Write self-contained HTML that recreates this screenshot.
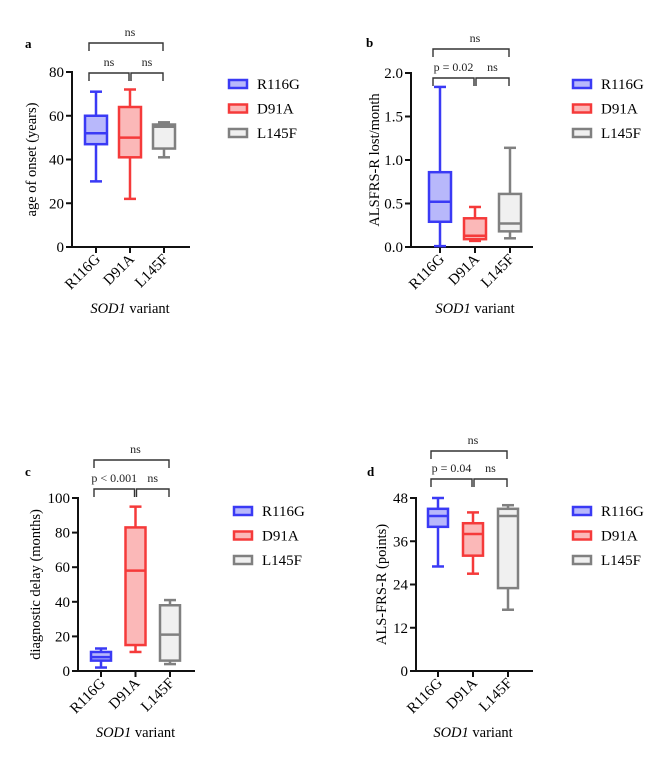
<!DOCTYPE html>
<html><head><meta charset="utf-8"><style>
html,body{margin:0;padding:0;background:#fff;}
svg{display:block;font-family:"Liberation Serif",serif;}
</style></head><body>
<svg id="fig" width="667" height="768" viewBox="0 0 667 768" xmlns="http://www.w3.org/2000/svg"></svg>
<script>
const categories = ["R116G","D91A","L145F"];
// [min, q1, median, q3, max] per category
const statsA = [[30,47,52,60,71],[22,41,50,64,72],[41,45,55,56,57]];
const statsB = [[0.01,0.29,0.52,0.86,1.84],[0.07,0.09,0.13,0.33,0.46],[0.10,0.18,0.27,0.61,1.14]];
const statsC = [[2,6,8,11,13],[11,15,58,83,95],[4,6,21,38,41]];
const statsD = [[29,40,43,45,48],[27,32,38,41,44],[17,23,43,45,46]];
const ticksA = [0,20,40,60,80];
const ticksB = [0,0.5,1.0,1.5,2.0];
const ticksC = [0,20,40,60,80,100];
const ticksD = [0,12,24,36,48];
const sigA = ["ns","ns","ns"];
const sigB = ["p = 0.02","ns","ns"];
const sigC = ["p < 0.001","ns","ns"];
const sigD = ["p = 0.04","ns","ns"];

const colors = [{s:"#3a3af5",f:"#b8b8fb"},{s:"#f53a3a",f:"#fbb8b8"},{s:"#808080",f:"#f0f0f0"}];
const NS="http://www.w3.org/2000/svg";
const svg=document.getElementById('fig');
function el(tag,attrs,parent,text){const e=document.createElementNS(NS,tag);for(const k in attrs)e.setAttribute(k,attrs[k]);if(text!==undefined)e.textContent=text;(parent||svg).appendChild(e);return e;}

function panel(o){
  const g=el('g',{});
  
  
  const y=v=>o.bottom-(v-o.min)/(o.max-o.min)*(o.bottom-o.top);
  const x=i=>o.cx0+i*o.dx;
  const lt=el('text',{x:o.lx,y:o.ly,'font-size':13,'font-weight':'bold'},g,o.letter);
  
  
  const ya=el('line',{x1:o.ax,y1:o.top-1,x2:o.ax,y2:o.bottom+1,stroke:'#111','stroke-width':2},g);
  
  
  const xa=el('line',{x1:o.ax-1,y1:o.bottom,x2:o.axEnd,y2:o.bottom,stroke:'#111','stroke-width':2},g);
  
  
  o.ticks.forEach(t=>{
    el('line',{x1:o.ax-6,y1:y(t),x2:o.ax,y2:y(t),stroke:'#111','stroke-width':2},g);
    const tl=el('text',{x:o.ax-8,y:y(t)+5,'font-size':15,'text-anchor':'end'},g,o.fmt(t));
    
    
  });
  const yt=el('text',{x:0,y:0,'font-size':14.5,'text-anchor':'middle',transform:`translate(${o.ytx},${(o.top+o.bottom)/2}) rotate(-90)`},g,o.ytitle);
  
  
  categories.forEach((c,i)=>{
    el('line',{x1:x(i),y1:o.bottom,x2:x(i),y2:o.bottom+6,stroke:'#111','stroke-width':2},g);
    const cl=el('text',{x:0,y:0,'font-size':15,'text-anchor':'end',transform:`translate(${x(i)+5},${o.bottom+13}) rotate(-45)`},g,c);
    
    
    const s=o.stats[i],col=colors[i],w=o.bw;
    const bx=el('g',{},g);
    
    
    el('line',{x1:x(i),y1:y(s[0]),x2:x(i),y2:y(s[1]),stroke:col.s,'stroke-width':2.5},bx);
    el('line',{x1:x(i),y1:y(s[3]),x2:x(i),y2:y(s[4]),stroke:col.s,'stroke-width':2.5},bx);
    el('line',{x1:x(i)-6,y1:y(s[0]),x2:x(i)+6,y2:y(s[0]),stroke:col.s,'stroke-width':2.5},bx);
    el('line',{x1:x(i)-6,y1:y(s[4]),x2:x(i)+6,y2:y(s[4]),stroke:col.s,'stroke-width':2.5},bx);
    el('rect',{x:x(i)-w/2,y:y(s[3]),width:w,height:Math.max(0.5,y(s[1])-y(s[3])),fill:col.f,stroke:col.s,'stroke-width':2.5},bx);
    el('line',{x1:x(i)-w/2,y1:y(s[2]),x2:x(i)+w/2,y2:y(s[2]),stroke:col.s,'stroke-width':2.5},bx);
    const lg=el('g',{},g);
    
    
    const ly=o.legY+i*24.5;
    el('rect',{x:o.legX,y:ly-4,width:18,height:8,fill:col.f,stroke:col.s,'stroke-width':2.5},lg);
    el('text',{x:o.legX+28,y:ly+5,'font-size':15},lg,c);
  });
  const xt=el('text',{x:(x(0)+x(2))/2,y:o.bottom+66,'font-size':14.5,'text-anchor':'middle'},g);
  
  
  el('tspan',{'font-style':'italic'},xt,'SOD1');
  el('tspan',{},xt,' variant');
  const br=(x1,x2,yy,label,tx)=>{
    el('path',{d:`M${x1},${yy+8}V${yy}H${x2}V${yy+8}`,fill:'none',stroke:'#333','stroke-width':1.4},g);
    const t=el('text',{x:tx,y:yy-7,'font-size':12,'text-anchor':'middle',fill:'#222'},g,label);
    
    
  };
  br(x(0)-7,x(1)-1,o.b1,o.sig[0],(x(0)+x(1))/2-4);
  br(x(1)+1,x(2)-1,o.b1,o.sig[1],(x(1)+x(2))/2);
  br(x(0)-7,x(2)-1,o.b2,o.sig[2],(x(0)+x(2))/2);
}
const f0=v=>String(v), f1=v=>v.toFixed(1);
panel({letter:'a',lx:25,ly:48,stats:statsA,ticks:ticksA,fmt:f0,min:0,max:80,top:72,bottom:247,ax:72,axEnd:190,cx0:96,dx:34,bw:22,ytx:36,ytitle:'age of onset (years)',legX:229,legY:84,b1:73,b2:43,sig:sigA});
panel({letter:'b',lx:366,ly:47,stats:statsB,ticks:ticksB,fmt:f1,min:0,max:2,top:73,bottom:247,ax:411,axEnd:533,cx0:440,dx:35,bw:22,ytx:379,ytitle:'ALSFRS-R lost/month',legX:573,legY:84,b1:78,b2:49,sig:sigB});
panel({letter:'c',lx:25,ly:476,stats:statsC,ticks:ticksC,fmt:f0,min:0,max:100,top:498,bottom:671,ax:78,axEnd:195,cx0:101,dx:34.5,bw:20,ytx:40,ytitle:'diagnostic delay (months)',legX:234,legY:511,b1:489,b2:460,sig:sigC});
panel({letter:'d',lx:367,ly:476,stats:statsD,ticks:ticksD,fmt:f0,min:0,max:48,top:498,bottom:671,ax:416,axEnd:533,cx0:438,dx:35,bw:20,ytx:386,ytitle:'ALS-FRS-R (points)',legX:573,legY:511,b1:479,b2:451,sig:sigD});
</script>
</body></html>
